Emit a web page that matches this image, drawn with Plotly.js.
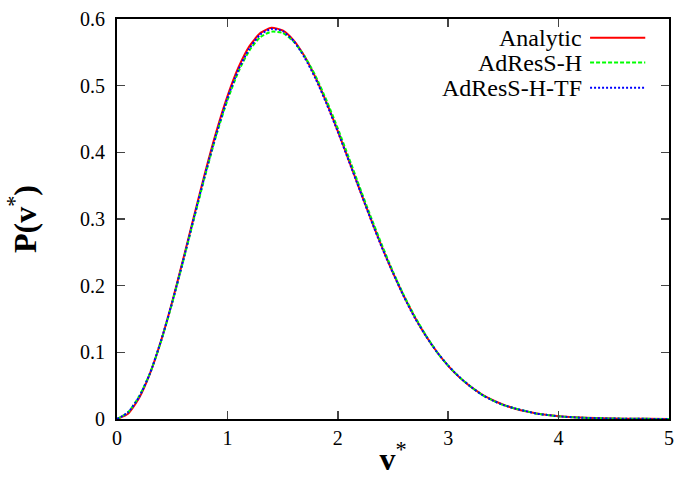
<!DOCTYPE html>
<html><head><meta charset="utf-8">
<script src="https://cdn.plot.ly/plotly-3.0.1.min.js"></script>
<style>html,body{margin:0;padding:0;background:#fff}#c{width:678px;height:477px}</style>
</head><body><div id="c"></div>
<script>
const vAnalytic = [0,0.1,0.2,0.3,0.4,0.5,0.6,0.7,0.8,0.9,1.0,1.1,1.2,1.3,1.4,1.5,1.6,1.7,1.8,1.9,2.0,2.1,2.2,2.3,2.4,2.5,2.6,2.7,2.8,2.9,3.0,3.1,3.2,3.3,3.4,3.5,3.6,3.7,3.8,3.9,4.0,4.2,4.4,4.6,4.8,5.0];
const pAnalytic = [0,0.0079,0.0313,0.0687,0.1179,0.1760,0.2399,0.3060,0.3708,0.4311,0.4839,0.5272,0.5593,0.5792,0.5869,0.5828,0.5679,0.5436,0.5116,0.4737,0.4319,0.3879,0.3434,0.2997,0.2580,0.2191,0.1837,0.1520,0.1241,0.1001,0.0798,0.0628,0.0489,0.0375,0.0285,0.0214,0.0158,0.0116,0.0084,0.0060,0.0043,0.0021,0.0010,0.0004,0.0002,0.0001];
const vSim = [0,0.1,0.2,0.3,0.4,0.5,0.6,0.7,0.8,0.9,1.0,1.1,1.2,1.3,1.4,1.5,1.6,1.7,1.8,1.9,2.0,2.1,2.2,2.3,2.4,2.5,2.6,2.7,2.8,2.9,3.0,3.1,3.2,3.3,3.4,3.5,3.6,3.7,3.8,3.9,4.0,4.2,4.4,4.6,4.8,5.0];
const pAdResSH = [0,0.010,0.034,0.069,0.117,0.174,0.237,0.302,0.366,0.426,0.478,0.521,0.553,0.573,0.581,0.579,0.566,0.544,0.514,0.477,0.436,0.392,0.347,0.303,0.261,0.221,0.185,0.153,0.125,0.100,0.080,0.063,0.049,0.037,0.028,0.021,0.016,0.012,0.008,0.006,0.004,0.002,0.001,0.0004,0.0002,0.0001];
const pAdResSHTF = [0,0.010,0.033,0.069,0.118,0.175,0.238,0.304,0.368,0.428,0.481,0.524,0.556,0.577,0.585,0.582,0.567,0.542,0.510,0.472,0.431,0.387,0.343,0.299,0.257,0.219,0.183,0.151,0.124,0.100,0.080,0.063,0.049,0.037,0.028,0.021,0.016,0.012,0.008,0.006,0.004,0.002,0.001,0.0004,0.0002,0.0001];
const seriesNames = ['Analytic','AdResS-H','AdResS-H-TF'];
const seriesColors = ['#ff0000','#00ff00','#0000ff'];
const seriesDash = ['solid','4px,2px','2px,2px'];
const xTicks = [0,1,2,3,4,5];
const yTicks = [0,0.1,0.2,0.3,0.4,0.5,0.6];
const yTickText = ['0','0.1','0.2','0.3','0.4','0.5','0.6'];

const F = 'Liberation Serif';
const xs = [vAnalytic, vSim, vSim];
const ys = [pAnalytic, pAdResSH, pAdResSHTF];
const traces = ys.map((y,i)=>({x:xs[i], y:y, type:'scatter', mode:'lines', name:seriesNames[i],
  line:{color:seriesColors[i], dash:seriesDash[i], width:2, shape:'spline', smoothing:0.6}, showlegend:false}));

const annotations = [], shapes = [];
const legY = [0.953, 0.891, 0.828];
seriesNames.forEach((n,i)=>{
  annotations.push({xref:'paper', yref:'paper', x:0.845, y:legY[i], xanchor:'right', yanchor:'middle',
    text:n, showarrow:false, borderpad:0, font:{family:F, size:24, color:'#000'}});
  shapes.push({type:'line', xref:'paper', yref:'paper', x0:0.857, x1:0.957, y0:legY[i], y1:legY[i],
    line:{color:seriesColors[i], dash:seriesDash[i], width:2}});
});

const layout = {
  width:678, height:477,
  margin:{l:117, r:9, t:19, b:58},
  paper_bgcolor:'#fff', plot_bgcolor:'#fff',
  font:{family:F, size:20, color:'#000'},
  xaxis:{range:[0,5], tickvals:xTicks, ticktext:xTicks.map(String), ticks:'inside', ticklen:8, tickwidth:1.5,
    showline:true, linewidth:2, linecolor:'#000', mirror:'ticks', showgrid:false, zeroline:false,
    tickfont:{family:F, size:20},
    title:{text:'<b>v</b><sup>*</sup>', font:{family:F, size:32}, standoff:15}},
  yaxis:{range:[0,0.6], tickvals:yTicks, ticktext:yTickText, ticks:'inside', ticklen:8, tickwidth:1.5,
    showline:true, linewidth:2, linecolor:'#000', mirror:'ticks', showgrid:false, zeroline:false,
    tickfont:{family:F, size:20}, ticklabelstandoff:6,
    title:{text:'<b>P(v</b><sup>*</sup><b>)</b>', font:{family:F, size:32}, standoff:34}},
  annotations:annotations, shapes:shapes
};
Plotly.newPlot('c', traces, layout, {staticPlot:true, displayModeBar:false});
</script></body></html>
